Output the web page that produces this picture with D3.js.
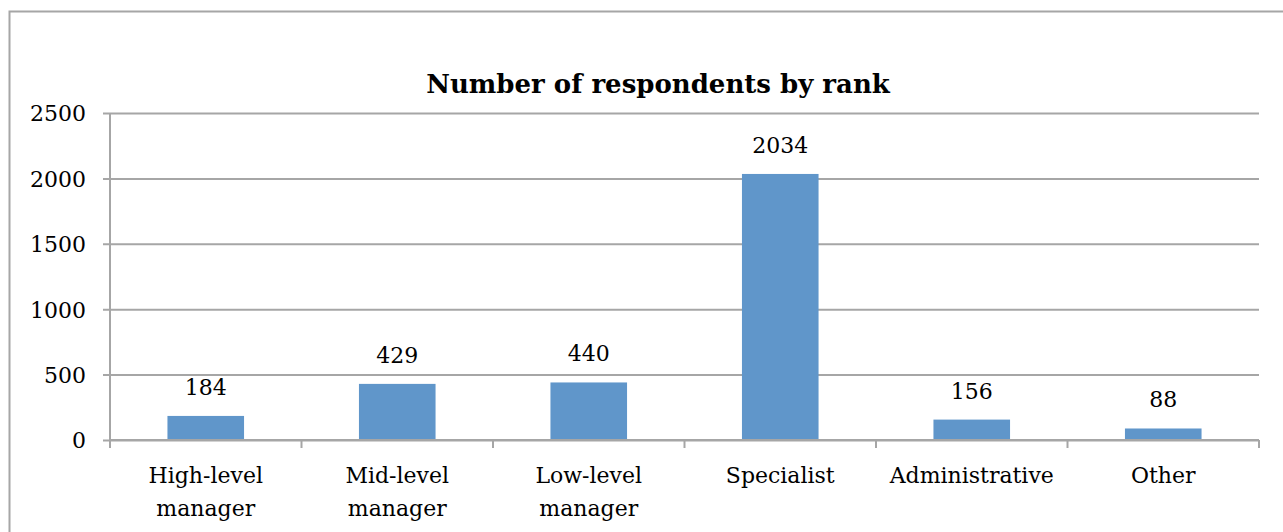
<!DOCTYPE html>
<html>
<head>
<meta charset="utf-8">
<script src="https://cdn.jsdelivr.net/npm/d3@7"></script>
<style>
  body { margin: 0; background: #fff; }
  svg text { font-family: "DejaVu Serif", serif; fill: #000; }
</style>
</head>
<body>
<div id="chart"></div>
<script>
var categories = [["High-level", "manager"], ["Mid-level", "manager"], ["Low-level", "manager"], ["Specialist"], ["Administrative"], ["Other"]];
var values = [184, 429, 440, 2034, 156, 88];
var yTicks = [0, 500, 1000, 1500, 2000, 2500];
var chartTitle = "Number of respondents by rank";

var width = 1283, height = 532;
var margin = { top: 113, right: 24, bottom: 92, left: 110 };

var svg = d3.select('#chart')
    .append('svg')
    .attr('width', width)
    .attr('height', height);

// outer frame
svg.append('rect')
    .attr('x', 9.5).attr('y', 11.5)
    .attr('width', width + 10).attr('height', height + 10)
    .attr('fill', 'none')
    .attr('stroke', '#a6a6a6')
    .attr('stroke-width', 2);

var plotW = width - margin.left - margin.right,
    plotH = height - margin.top - margin.bottom;

var g = svg.append('g')
    .attr('transform', "translate(" + margin.left + "," + margin.top + ")");

var xScale = d3.scaleBand()
    .domain(d3.range(categories.length))
    .range([0, plotW])
    .paddingInner(0.6)
    .paddingOuter(0.3);

var xBand = d3.scaleBand()
    .domain(d3.range(categories.length))
    .range([0, plotW]);

var yScale = d3.scaleLinear()
    .domain([0, 2500])
    .range([plotH, 0]);

// gridlines + y labels
var yAxis = d3.axisLeft(yScale)
    .tickValues(yTicks)
    .tickFormat(d3.format('d'))
    .tickSize(-plotW - 7);

g.append('g')
    .attr('class', 'y-axis')
    .call(yAxis)
    .call(function(s) {
        s.select('.domain').remove();
        s.selectAll('.tick line')
            .attr('x1', -7)
            .attr('x2', plotW)
            .attr('stroke', '#a6a6a6')
            .attr('stroke-width', 2);
        s.selectAll('.tick text')
            .attr('x', -24)
            .attr('dy', '0.36em')
            .style('font-size', '22px')
            .style('font-family', '"DejaVu Serif", serif');
    });

// y axis line
g.append('line')
    .attr('x1', 0).attr('x2', 0)
    .attr('y1', 0).attr('y2', plotH)
    .attr('stroke', '#a6a6a6')
    .attr('stroke-width', 2);

// x axis ticks
var xTickPos = d3.range(categories.length + 1).map(function(i) {
    return i < categories.length ? xBand(i) : plotW;
});
g.selectAll('.x-tick')
    .data(xTickPos)
    .enter()
    .append('line')
    .attr('class', 'x-tick')
    .attr('x1', function(d) { return d; })
    .attr('x2', function(d) { return d; })
    .attr('y1', plotH)
    .attr('y2', plotH + 8)
    .attr('stroke', '#a6a6a6')
    .attr('stroke-width', 2);

// bars
g.selectAll('.bar')
    .data(values)
    .enter()
    .append('rect')
    .attr('class', 'bar')
    .attr('x', function(d, i) { return xScale(i); })
    .attr('width', xScale.bandwidth())
    .attr('y', function(d) { return yScale(d); })
    .attr('height', function(d) { return plotH - yScale(d); })
    .attr('fill', '#6096ca');

// baseline redraw over bars
g.append('line')
    .attr('x1', 0).attr('x2', plotW)
    .attr('y1', plotH).attr('y2', plotH)
    .attr('stroke', '#a6a6a6')
    .attr('stroke-width', 2);

// value labels
g.selectAll('.value-label')
    .data(values)
    .enter()
    .append('text')
    .attr('class', 'value-label')
    .attr('x', function(d, i) { return xBand(i) + xBand.bandwidth() / 2; })
    .attr('y', function(d) { return yScale(d) - 21; })
    .attr('text-anchor', 'middle')
    .style('font-size', '22px')
    .text(function(d) { return d; });

// category labels
var catLabel = g.selectAll('.cat-label')
    .data(categories)
    .enter()
    .append('text')
    .attr('class', 'cat-label')
    .attr('text-anchor', 'middle')
    .style('font-size', '22px')
    .attr('transform', function(d, i) {
        return "translate(" + (xBand(i) + xBand.bandwidth() / 2) + "," + (plotH + 43) + ")";
    });

catLabel.selectAll('tspan')
    .data(function(d) { return d; })
    .enter()
    .append('tspan')
    .attr('x', 0)
    .attr('dy', function(d, i) { return i === 0 ? 0 : 33; })
    .text(function(d) { return d; });

// title
svg.append('text')
    .attr('x', 658)
    .attr('y', 93)
    .attr('text-anchor', 'middle')
    .style('font-size', '26px')
    .style('font-weight', 'bold')
    .text(chartTitle);
</script>
</body>
</html>
